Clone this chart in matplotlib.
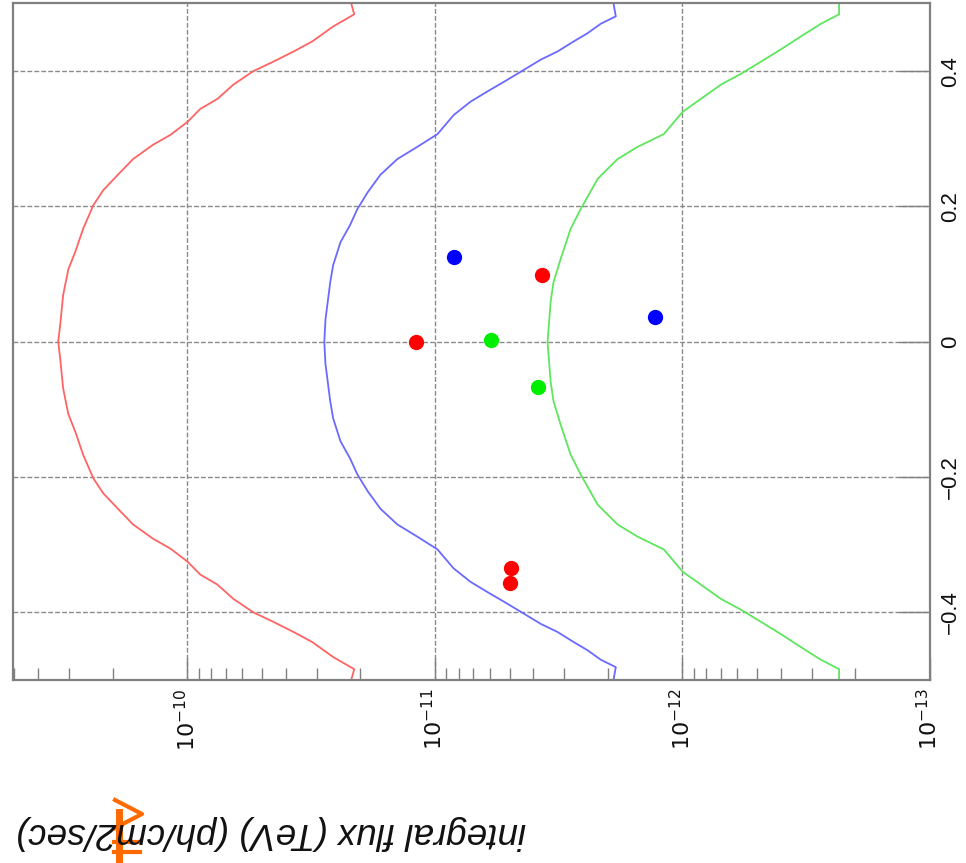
import matplotlib
matplotlib.use("Agg")
import matplotlib.pyplot as plt
from matplotlib.ticker import LogLocator, NullFormatter, FixedLocator
from matplotlib.lines import Line2D

# ---- sensitivity curves: declination vs integral flux (ph/cm2/sec) ----
red_dec = [0.500, 0.484, 0.466, 0.444, 0.429, 0.414, 0.400, 0.380, 0.359, 0.344,
           0.325, 0.306, 0.291, 0.270, 0.246, 0.224, 0.202, 0.167, 0.133, 0.107,
           0.069, 0.024, 0.000, -0.024, -0.069, -0.107, -0.133, -0.167, -0.202,
           -0.224, -0.246, -0.270, -0.291, -0.306, -0.325, -0.344, -0.359, -0.380,
           -0.400, -0.414, -0.429, -0.444, -0.466, -0.484, -0.500]
red_flux = [2.18e-11, 2.12e-11, 2.58e-11, 3.13e-11, 3.73e-11, 4.50e-11, 5.42e-11,
            6.53e-11, 7.57e-11, 8.89e-11, 1.00e-10, 1.17e-10, 1.38e-10, 1.66e-10,
            1.92e-10, 2.19e-10, 2.40e-10, 2.64e-10, 2.84e-10, 3.03e-10, 3.18e-10,
            3.27e-10, 3.33e-10, 3.27e-10, 3.18e-10, 3.03e-10, 2.84e-10, 2.64e-10,
            2.40e-10, 2.19e-10, 1.92e-10, 1.66e-10, 1.38e-10, 1.17e-10, 1.00e-10,
            8.89e-11, 7.57e-11, 6.53e-11, 5.42e-11, 4.50e-11, 3.73e-11, 3.13e-11,
            2.58e-11, 2.12e-11, 2.18e-11]

blue_dec = [0.500, 0.481, 0.470, 0.456, 0.444, 0.429, 0.417, 0.399, 0.384, 0.370,
            0.355, 0.335, 0.307, 0.288, 0.270, 0.247, 0.221, 0.196, 0.173, 0.147,
            0.113, 0.088, 0.033, 0.000, -0.033, -0.088, -0.113, -0.147, -0.173,
            -0.196, -0.221, -0.247, -0.270, -0.288, -0.307, -0.335, -0.355, -0.370,
            -0.384, -0.399, -0.417, -0.429, -0.444, -0.456, -0.470, -0.481, -0.500]
blue_flux = [1.90e-12, 1.86e-12, 2.14e-12, 2.42e-12, 2.75e-12, 3.20e-12, 3.74e-12,
             4.51e-12, 5.28e-12, 6.14e-12, 7.18e-12, 8.41e-12, 9.77e-12, 1.18e-11,
             1.42e-11, 1.66e-11, 1.87e-11, 2.06e-11, 2.20e-11, 2.41e-11, 2.58e-11,
             2.65e-11, 2.77e-11, 2.80e-11, 2.77e-11, 2.65e-11, 2.58e-11, 2.41e-11,
             2.20e-11, 2.06e-11, 1.87e-11, 1.66e-11, 1.42e-11, 1.18e-11, 9.77e-12,
             8.41e-12, 7.18e-12, 6.14e-12, 5.28e-12, 4.51e-12, 3.74e-12, 3.20e-12,
             2.75e-12, 2.42e-12, 2.14e-12, 1.86e-12, 1.90e-12]

green_dec = [0.500, 0.484, 0.470, 0.454, 0.432, 0.414, 0.396, 0.380, 0.359, 0.340,
             0.307, 0.288, 0.270, 0.241, 0.196, 0.167, 0.122, 0.088, 0.059, 0.000,
             -0.059, -0.088, -0.122, -0.167, -0.196, -0.241, -0.270, -0.288, -0.307,
             -0.340, -0.359, -0.380, -0.396, -0.414, -0.432, -0.454, -0.470, -0.484,
             -0.500]
green_flux = [2.33e-13, 2.33e-13, 2.76e-13, 3.24e-13, 4.01e-13, 4.82e-13, 5.81e-13,
              7.00e-13, 8.43e-13, 9.98e-13, 1.19e-12, 1.52e-12, 1.83e-12, 2.20e-12,
              2.58e-12, 2.83e-12, 3.11e-12, 3.32e-12, 3.41e-12, 3.51e-12, 3.41e-12,
              3.32e-12, 3.11e-12, 2.83e-12, 2.58e-12, 2.20e-12, 1.83e-12, 1.52e-12,
              1.19e-12, 9.98e-13, 8.43e-13, 7.00e-13, 5.81e-13, 4.82e-13, 4.01e-13,
              3.24e-13, 2.76e-13, 2.33e-13, 2.33e-13]

# ---- measured sources ----
red_pts_dec = [0.098, 0.000, -0.334, -0.356]
red_pts_flux = [3.69e-12, 1.19e-11, 4.91e-12, 4.98e-12]
blue_pts_dec = [0.126, 0.037]
blue_pts_flux = [8.41e-12, 1.29e-12]
green_pts_dec = [0.002, -0.067]
green_pts_flux = [5.96e-12, 3.85e-12]

flux_ticks = [1e-10, 1e-11, 1e-12, 1e-13]
flux_labels = [r"$10^{-10}$", r"$10^{-11}$", r"$10^{-12}$", r"$10^{-13}$"]
dec_ticks = [-0.4, -0.2, 0.0, 0.2, 0.4]
dec_labels = ["\u22120.4", "\u22120.2", "0", "0.2", "0.4"]

W, H = 966, 863
fig = plt.figure(figsize=(W / 100, H / 100), dpi=100)
fig.patch.set_facecolor("white")
ax = fig.add_axes([13 / W, 1 - 680 / H, (930 - 13) / W, (680 - 3.5) / H])

frame = "#808080"
ax.set_xscale("log")
ax.set_xlim(5.07e-10, 1e-13)
ax.set_ylim(-0.5, 0.5)

ax.plot(red_flux, red_dec, color="#ff6464", lw=1.3)
ax.plot(blue_flux, blue_dec, color="#6a6aff", lw=1.3)
ax.plot(green_flux, green_dec, color="#5ee65e", lw=1.3)

ax.plot(red_pts_flux, red_pts_dec, "o", color="#ff0000", ms=11, mec="none")
ax.plot(blue_pts_flux, blue_pts_dec, "o", color="#0000ff", ms=11, mec="none")
ax.plot(green_pts_flux, green_pts_dec, "o", color="#00ee00", ms=11, mec="none")

# axes styling
for s in ax.spines.values():
    s.set_color(frame)
    s.set_linewidth(1.6)

ax.xaxis.set_major_locator(FixedLocator(flux_ticks))
ax.set_xticklabels(flux_labels)
ax.xaxis.set_minor_locator(LogLocator(base=10, subs=range(2, 10), numticks=20))
ax.xaxis.set_minor_formatter(NullFormatter())
ax.yaxis.tick_right()
ax.set_yticks(dec_ticks)
ax.set_yticklabels(dec_labels)

ax.tick_params(axis="x", which="major", direction="in", length=16, width=1,
               color=frame, labelsize=16, labelrotation=90, pad=6,
               labelcolor="#111111", top=False, bottom=True)
ax.tick_params(axis="x", which="minor", direction="in", length=9, width=1,
               color=frame, top=False, bottom=True)
ax.tick_params(axis="y", which="major", direction="in", length=22, width=1,
               color=frame, labelsize=16, labelrotation=90, pad=7,
               labelcolor="#111111", left=False, right=True)
for lab in ax.get_xticklabels() + ax.get_yticklabels():
    lab.set_fontfamily("Liberation Sans")
for lab in ax.get_yticklabels():
    lab.set_verticalalignment("center")

ax.grid(True, which="major", color="#8a8a8a", linestyle=(0, (3.5, 1.5)), lw=1.0)

fig.text(271 / W, 1 - 832 / H, "integral flux (TeV) (ph/cm2/sec)", rotation=180,
         ha="center", va="center", fontsize=26.5, style="italic",
         family="Liberation Sans", color="#111111")

# orange pointer glyph drawn over the axis title
orange = "#ff6a00"
def px(x, y):
    return x / W, 1 - y / H
pts = [px(115, 800), px(142, 814), px(115, 828)]
fig.add_artist(Line2D([p[0] for p in pts], [p[1] for p in pts], color=orange, lw=3))
for (x0, y0, x1, y1, w) in [(119, 812, 119, 863, 5), (114, 842, 140, 842, 3),
                            (114, 852, 140, 852, 3)]:
    a, b = px(x0, y0)
    c, d = px(x1, y1)
    fig.add_artist(Line2D([a, c], [b, d], color=orange, lw=w))

fig.savefig("out.png", dpi=100, facecolor="white")
